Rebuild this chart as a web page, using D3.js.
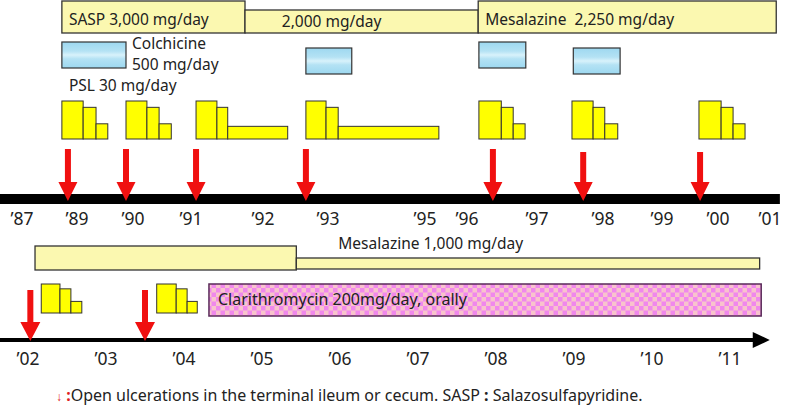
<!DOCTYPE html>
<html><head><meta charset="utf-8">
<script src="https://cdn.jsdelivr.net/npm/d3@7"></script>
<style>body{margin:0;background:#fff}svg{display:block}text{font-family:"Noto Sans",sans-serif;fill:#222}</style>
</head><body><svg id="c" width="789" height="407"></svg>
<script>
// ---------- DATA ----------
const topTickYears = [1987,1989,1990,1991,1992,1993,1995,1996,1997,1998,1999,2000,2001];
const topTickLabels = ["’87","’89","’90","’91","’92","’93","’95","’96","’97","’98","’99","’00","’01"];
const bottomTickYears = [2002,2003,2004,2005,2006,2007,2008,2009,2010,2011];
const bottomTickLabels = ["’02","’03","’04","’05","’06","’07","’08","’09","’10","’11"];

// long-term drugs (start, end, label, level: 0 = full height, 1 = reduced)
const topDrugs = [
  {start:1988.45, end:1991.75, label:"SASP 3,000 mg/day", level:0, align:"start"},
  {start:1991.75, end:1996.16, label:"2,000 mg/day", level:1, align:"middle"},
  {start:1996.16, end:2001.12, label:"Mesalazine\u00a0 2,250 mg/day", level:0, align:"start"}
];
const colchicine = [
  {start:1988.45, end:1989.875, row:0},
  {start:1992.66, end:1993.49, row:1},
  {start:1996.17, end:1996.84, row:0},
  {start:1997.55, end:1998.29, row:1}
];
// PSL tapering steps: [start, end, dose mg/day]
const topPSL = [
  [1988.45,1989.11,30],[1989.11,1989.34,25],[1989.34,1989.55,12],
  [1989.875,1990.24,30],[1990.24,1990.45,25],[1990.45,1990.66,12],
  [1991.07,1991.36,30],[1991.36,1991.51,25],[1991.51,1992.38,10],
  [1992.66,1992.97,30],[1992.97,1993.21,25],[1993.21,1995.33,10],
  [1996.17,1996.49,30],[1996.49,1996.66,25],[1996.66,1996.83,12],
  [1997.53,1997.85,30],[1997.85,1998.03,25],[1998.03,1998.25,12],
  [1999.66,2000.06,30],[2000.06,2000.29,25],[2000.29,2000.52,12]
];
const topUlcers = [1988.67,1989.875,1991.07,1992.66,1996.37,1997.70,1999.68];
const topUlcerLate = [0,0,0,0,0,1,1];

const bottomDrugs = [
  {start:2002.09, end:2005.44, level:0},
  {start:2005.44, end:2011.38, level:1}
];
const bottomDrugLabel = "Mesalazine 1,000 mg/day";
const bottomPSL = [
  [2002.17,2002.41,30],[2002.41,2002.55,25],[2002.55,2002.69,12],
  [2003.65,2003.90,30],[2003.90,2004.04,25],[2004.04,2004.17,12]
];
const bottomUlcers = [2002.03, 2003.50];
const clarithro = {start:2004.32, end:2011.40, label:"Clarithromycin 200mg/day, orally"};

// ---------- DRAW ----------
const svg = d3.select("#c");
const defs = svg.append("defs");
const g1 = defs.append("linearGradient").attr("id","colch").attr("x1",0).attr("y1",0).attr("x2",0).attr("y2",1);
g1.append("stop").attr("offset","0%").attr("stop-color","#9dd8f0");
g1.append("stop").attr("offset","35%").attr("stop-color","#b4e2f4");
g1.append("stop").attr("offset","50%").attr("stop-color","#d8f2fb");
g1.append("stop").attr("offset","65%").attr("stop-color","#b4e2f4");
g1.append("stop").attr("offset","100%").attr("stop-color","#9dd8f0");
const pat = defs.append("pattern").attr("id","checker").attr("patternUnits","userSpaceOnUse")
  .attr("width",9).attr("height",9).attr("x",0).attr("y",0);
pat.append("rect").attr("width",9).attr("height",9).attr("fill","#f8c4cc");
pat.append("rect").attr("width",4.5).attr("height",4.5).attr("fill","#f088ec");
pat.append("rect").attr("x",4.5).attr("y",4.5).attr("width",4.5).attr("height",4.5).attr("fill","#f088ec");

const xTop = d3.scaleLinear().domain(topTickYears).range([22,77,133,191,263,328,425,467,537,603,662,718,770]);
const xBot = d3.scaleLinear().domain([2002,2011]).range([28,730]);
const doseTop = d3.scaleLinear().domain([0,30]).range([139,101]);
const doseBot = d3.scaleLinear().domain([0,30]).range([313,284]);
const FS = 15.5;

// --- top long-term drug boxes
svg.selectAll(".td").data(topDrugs).enter().append("rect")
  .attr("x",d=>xTop(d.start)).attr("width",d=>xTop(d.end)-xTop(d.start))
  .attr("y",d=>d.level?10:1).attr("height",d=>d.level?23:32)
  .attr("fill","#fbf8b0").attr("stroke","#333").attr("stroke-width",1.3);
svg.selectAll(".tdl").data(topDrugs).enter().append("text")
  .attr("x",d=>d.align==="middle"?(xTop(d.start)+xTop(d.end))/2-30:xTop(d.start)+7)
  .attr("y",d=>d.level?27:25).attr("text-anchor",d=>d.align).attr("font-size",FS).text(d=>d.label);

// --- colchicine
svg.selectAll(".co").data(colchicine).enter().append("rect")
  .attr("x",d=>xTop(d.start)).attr("width",d=>xTop(d.end)-xTop(d.start))
  .attr("y",d=>d.row?48:42).attr("height",26)
  .attr("fill","url(#colch)").attr("stroke","#333").attr("stroke-width",1.2);
svg.append("text").attr("x",xTop(colchicine[0].end)+6).attr("y",49).attr("font-size",FS).text("Colchicine");
svg.append("text").attr("x",xTop(colchicine[0].end)+6).attr("y",70).attr("font-size",FS).text("500 mg/day");
svg.append("text").attr("x",xTop(topDrugs[0].start)+7).attr("y",91).attr("font-size",FS).text("PSL 30 mg/day");

// --- PSL bars top
svg.selectAll(".pt").data(topPSL).enter().append("rect")
  .attr("x",d=>xTop(d[0])).attr("width",d=>xTop(d[1])-xTop(d[0]))
  .attr("y",d=>doseTop(d[2])).attr("height",d=>doseTop(0)-doseTop(d[2]))
  .attr("fill","#ffff00").attr("stroke","#333").attr("stroke-width",1);

// --- top axis
svg.append("line").attr("x1",xTop(1986.2)).attr("x2",xTop(2001.19)).attr("y1",199).attr("y2",199)
  .attr("stroke","#000").attr("stroke-width",10);
svg.selectAll(".tt").data(topTickYears).enter().append("text")
  .attr("x",d=>xTop(d)).attr("y",225).attr("text-anchor","middle").attr("font-size",17.5).attr("fill","#333")
  .text((d,i)=>topTickLabels[i]);

function arrow(sel, x, yTop, yTip, shaftW, headW, headH){
  const p = d3.path();
  p.moveTo(x-shaftW/2,yTop); p.lineTo(x+shaftW/2,yTop); p.lineTo(x+shaftW/2,yTip-headH);
  p.lineTo(x+headW/2,yTip-headH); p.lineTo(x,yTip); p.lineTo(x-headW/2,yTip-headH);
  p.lineTo(x-shaftW/2,yTip-headH); p.closePath();
  sel.append("path").attr("d",p.toString()).attr("fill","#f01010");
}
topUlcers.forEach((u,i)=>arrow(svg, xTop(u), topUlcerLate[i]?152:149, 201, 6, 19, 19));

// --- bottom section
svg.selectAll(".bd").data(bottomDrugs).enter().append("rect")
  .attr("x",d=>xBot(d.start)).attr("width",d=>xBot(d.end)-xBot(d.start))
  .attr("y",d=>d.level?258:246).attr("height",d=>d.level?11:24)
  .attr("fill","#fbf8b0").attr("stroke","#333").attr("stroke-width",1.3);
svg.append("text").attr("x",xBot(bottomDrugs[1].start)+42).attr("y",249).attr("font-size",FS).text(bottomDrugLabel);

svg.append("rect").attr("x",xBot(clarithro.start)).attr("width",xBot(clarithro.end)-xBot(clarithro.start))
  .attr("y",284).attr("height",32).attr("fill","url(#checker)").attr("stroke","#5a2a5a").attr("stroke-width",1.5);
svg.append("text").attr("x",xBot(clarithro.start)+9).attr("y",305).attr("font-size",16).text(clarithro.label);

svg.selectAll(".pb").data(bottomPSL).enter().append("rect")
  .attr("x",d=>xBot(d[0])).attr("width",d=>xBot(d[1])-xBot(d[0]))
  .attr("y",d=>doseBot(d[2])).attr("height",d=>doseBot(0)-doseBot(d[2]))
  .attr("fill","#ffff00").attr("stroke","#333").attr("stroke-width",1);

svg.append("line").attr("x1",0).attr("x2",xBot(2011.3)).attr("y1",340).attr("y2",340)
  .attr("stroke","#000").attr("stroke-width",4);
const tip = xBot(2011.51);
svg.append("path").attr("d",`M${tip-17},332L${tip},340L${tip-17},348Z`).attr("fill","#000");
svg.selectAll(".bt").data(bottomTickYears).enter().append("text")
  .attr("x",d=>xBot(d)).attr("y",365).attr("text-anchor","middle").attr("font-size",17.5).attr("fill","#333")
  .text((d,i)=>bottomTickLabels[i]);
bottomUlcers.forEach(u=>arrow(svg, xBot(u), 290, 341, 6, 20, 19));

// --- footnote
const fn = svg.append("text").attr("x",56).attr("y",401).attr("font-size",16);
fn.append("tspan").attr("fill","#e02020").attr("font-size",12).text("↓");
fn.append("tspan").attr("fill","#e02020").attr("font-weight","bold").text(" :");
fn.append("tspan").text("Open ulcerations in the terminal ileum or cecum. SASP ");
fn.append("tspan").attr("font-weight","bold").text(": ");
fn.append("tspan").text("Salazosulfapyridine.");
</script></body></html>
